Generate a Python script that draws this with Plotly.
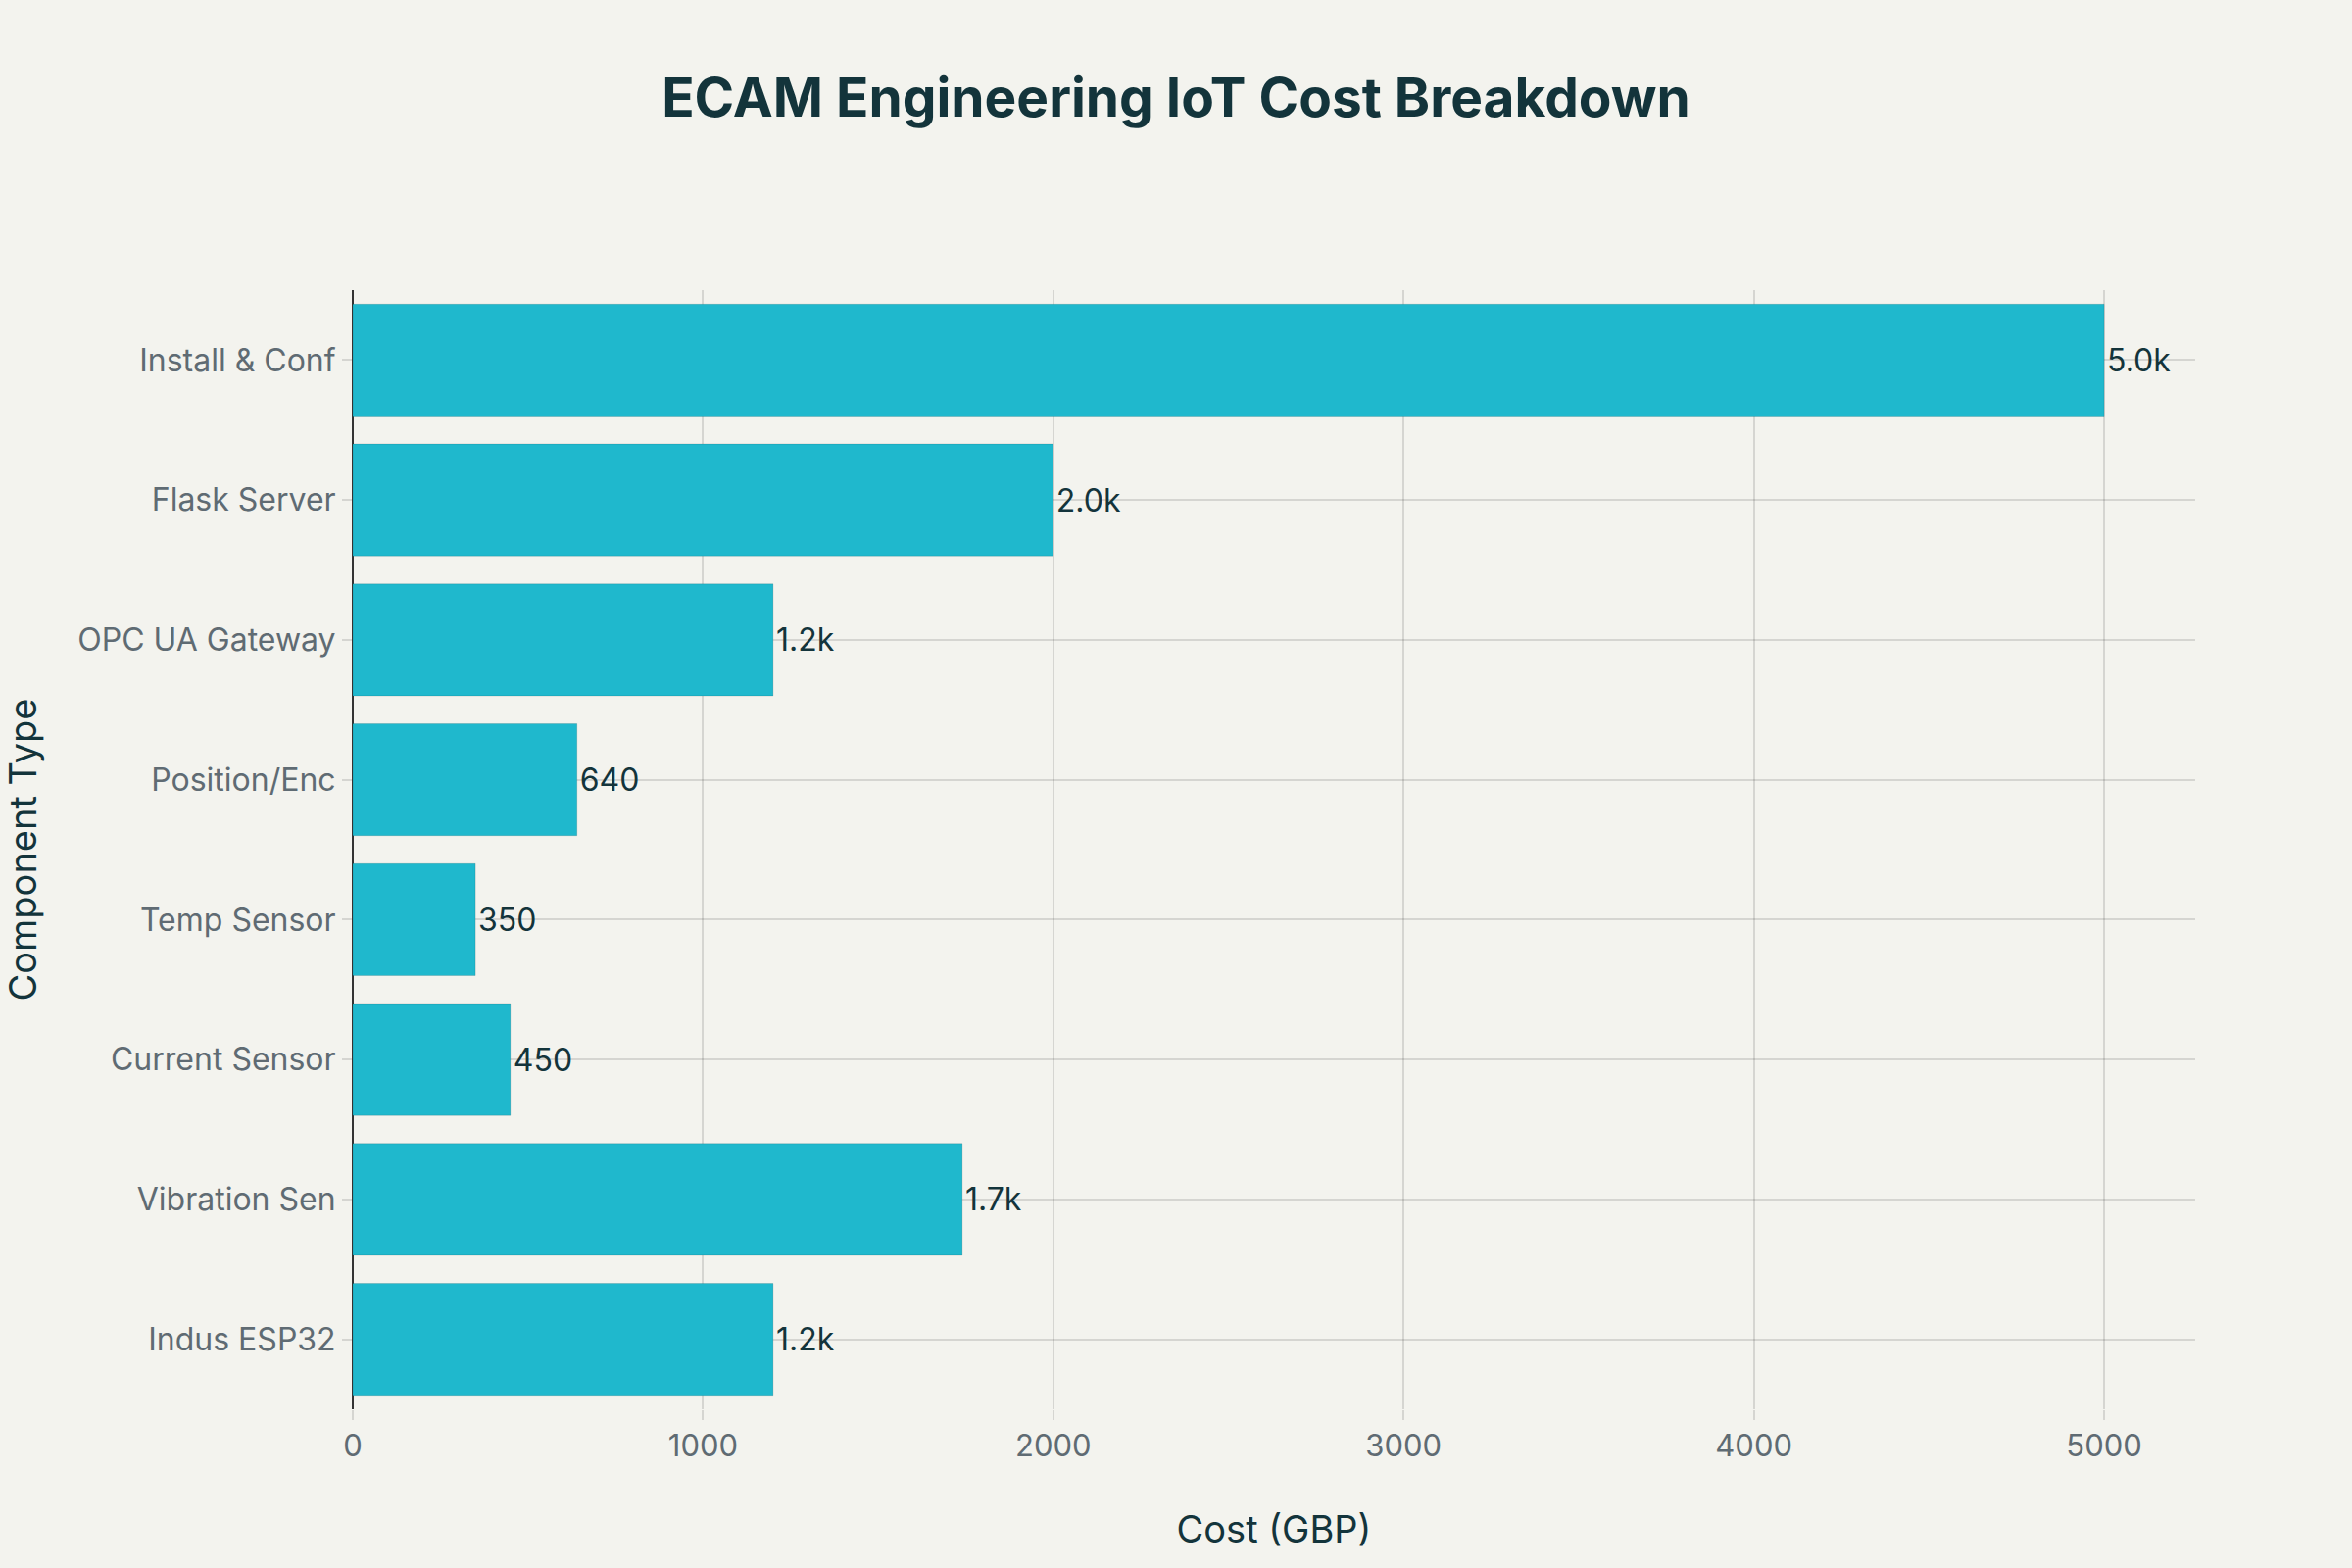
import plotly.graph_objects as go

categories = ["Indus ESP32", "Vibration Sen", "Current Sensor", "Temp Sensor",
              "Position/Enc", "OPC UA Gateway", "Flask Server", "Install & Conf"]
costs = [1200, 1740, 450, 350, 640, 1200, 2000, 5000]

x_ticks = [0, 1000, 2000, 3000, 4000, 5000]

BG = "#F3F3EE"
BAR = "#1FB8CD"
DARK = "#13343B"
GRAY = "#5F6B73"
FONT = "Inter"

fig = go.Figure(go.Bar(
    x=costs,
    y=categories,
    orientation="h",
    marker=dict(color=BAR, line=dict(color="rgba(0,0,0,0.12)", width=1)),
    texttemplate="%{x:.2s}",
    textposition="outside",
    textfont=dict(color=DARK, size=32, family=FONT),
    cliponaxis=False,
))

fig.update_layout(
    width=2400, height=1600,
    paper_bgcolor=BG, plot_bgcolor=BG,
    font=dict(family=FONT, color=GRAY),
    margin=dict(l=360, r=160, t=296, b=162),
    showlegend=False,
    bargap=0.2,
    title=dict(text="<b>ECAM Engineering IoT Cost Breakdown</b>",
               x=0.5, xanchor="center", y=1 - 100 / 1600, yanchor="middle",
               font=dict(size=55, color=DARK, family=FONT)),
    xaxis=dict(
        range=[0, 5260],
        tickvals=x_ticks,
        tickfont=dict(size=31, color=GRAY),
        showgrid=True, gridcolor="rgba(0,0,0,0.12)", gridwidth=2,
        zeroline=True, zerolinecolor="#333333", zerolinewidth=2,
        ticks="outside", ticklen=10, tickcolor="rgba(0,0,0,0.12)", tickwidth=2,
        title=dict(text="Cost (GBP)", font=dict(size=38, color=DARK), standoff=55),
        automargin=False,
    ),
    yaxis=dict(
        tickfont=dict(size=32, color=GRAY),
        showgrid=True, gridcolor="rgba(0,0,0,0.12)", gridwidth=2,
        ticks="outside", ticklen=10, tickcolor="rgba(0,0,0,0.12)", tickwidth=2,
        title=dict(text="Component Type", font=dict(size=38, color=DARK), standoff=30),
        automargin=False,
    ),
)

fig.write_html("out.html")
